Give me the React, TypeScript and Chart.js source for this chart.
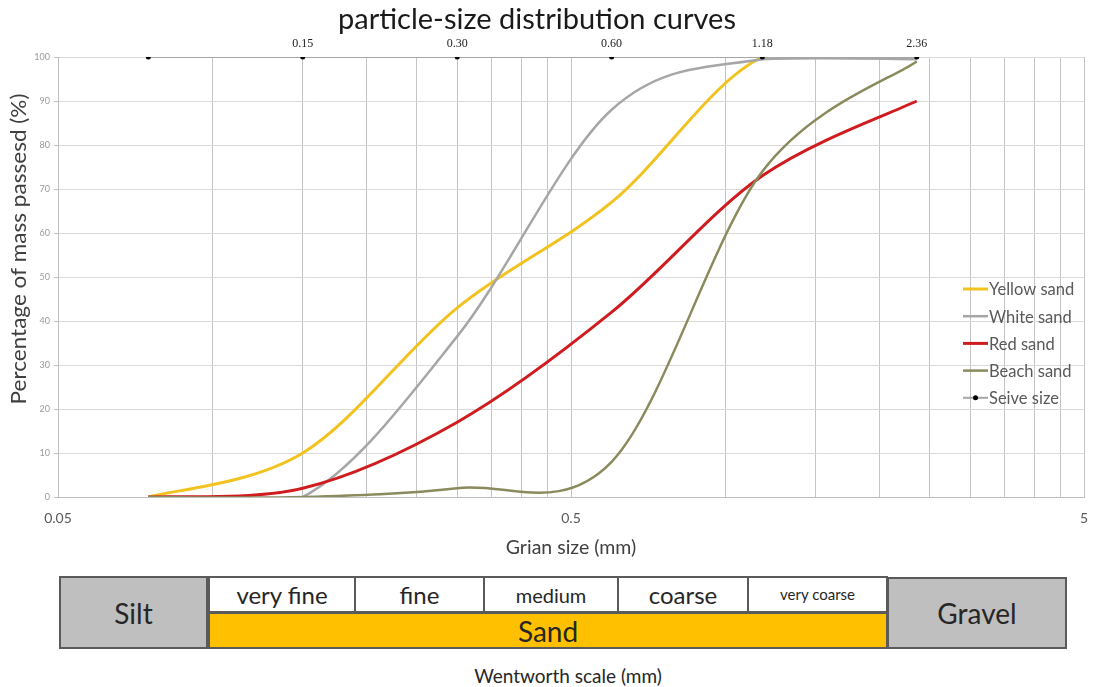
import React, { useEffect, useRef } from "react";
import { Chart, registerables } from "chart.js";

Chart.register(...registerables);

// ---- data ----
const sieveSizes = [0.075, 0.15, 0.3, 0.6, 1.18, 2.36];
const sieveLabels = ["", "0.15", "0.30", "0.60", "1.18", "2.36"];
const sieveLine = [100, 100, 100, 100, 100, 100];
const yellowSand = [0, 10, 43, 67, 100, 100];
const whiteSand = [0, 0, 36.5, 88, 99.5, 99.5];
const redSand = [0, 2, 17, 42, 73, 90];
const beachSand = [0, 0, 2, 8, 74, 99];

const seriesNames = ["Yellow sand", "White sand", "Red sand", "Beach sand", "Seive size"];
const seriesColors = ["#F2C21E", "#A6A6A6", "#D01C1F", "#8A8A5C", "#A6A6A6"];

const xGridValues = [0.05, 0.1, 0.15, 0.2, 0.25, 0.3, 0.35, 0.4, 0.45, 0.5, 1, 1.5, 2, 2.5, 3, 3.5, 4, 4.5, 5];
const xLabelValues = [0.05, 0.5, 5];

const wentworthSand = ["very fine", "fine", "medium", "coarse", "very coarse"];

const FONT = "Lato, 'Open Sans', sans-serif";

const toPoints = (vals: number[]) => vals.map((y, i) => ({ x: sieveSizes[i], y }));

// Excel-like smoothing: uniform Catmull-Rom control points in pixel space
const smoothPlugin = {
  id: "excelSmooth",
  beforeDatasetDraw(chart: any, args: any) {
    const ds = chart.data.datasets[args.index];
    if (!ds.excelSmooth) return;
    const meta = args.meta;
    const pts = meta.data;
    const top = chart.chartArea.top;
    const k = 1 / 6;
    for (let i = 0; i < pts.length; i++) {
      const p = pts[i];
      const prev = pts[i - 1] || p;
      const next = pts[i + 1] || p;
      const dx = next.x - prev.x;
      const dy = next.y - prev.y;
      p.cp1x = p.x - k * dx;
      p.cp1y = Math.max(top, p.y - k * dy);
      p.cp2x = p.x + k * dx;
      p.cp2y = Math.max(top, p.y + k * dy);
    }
    if (meta.dataset) meta.dataset._pointsUpdated = true;
  },
};

const extrasPlugin = {
  id: "extras",
  afterDraw(chart: any) {
    const ctx = chart.ctx;
    ctx.save();
    // title
    ctx.fillStyle = "#1a1a1a";
    ctx.font = `29px ${FONT}`;
    ctx.textAlign = "center";
    ctx.textBaseline = "middle";
    ctx.fillText("particle-size distribution curves", 537, 20);

    // y axis title (slightly stretched along its length, as in the source)
    ctx.save();
    ctx.translate(19, 249);
    ctx.rotate(-Math.PI / 2);
    ctx.scale(1.1, 1);
    ctx.font = `20.5px ${FONT}`;
    ctx.fillStyle = "#404040";
    ctx.fillText("Percentage of mass passesd (%)", 0, 0);
    ctx.restore();

    // sieve labels
    const sieveIdx = chart.data.datasets.length - 1;
    const meta = chart.getDatasetMeta(sieveIdx);
    ctx.font = "12px 'Liberation Serif', serif";
    ctx.fillStyle = "#222";
    meta.data.forEach((pt: any, i: number) => {
      if (sieveLabels[i]) ctx.fillText(sieveLabels[i], pt.x, pt.y - 13);
    });

    // legend
    const lx = 963;
    const ly = 289;
    const step = 27.2;
    ctx.textAlign = "left";
    ctx.font = `16.5px ${FONT}`;
    seriesNames.forEach((name, i) => {
      const ds = chart.data.datasets[i];
      const y = ly + i * step;
      ctx.strokeStyle = ds.borderColor;
      ctx.lineWidth = ds.borderWidth;
      ctx.beginPath();
      ctx.moveTo(lx, y);
      ctx.lineTo(lx + 25, y);
      ctx.stroke();
      if (ds.pointRadius > 0) {
        ctx.fillStyle = "#000";
        ctx.beginPath();
        ctx.arc(lx + 12.5, y, 2.5, 0, Math.PI * 2);
        ctx.fill();
      }
      ctx.fillStyle = "#595959";
      ctx.fillText(name, lx + 26, y + 1);
    });
    ctx.restore();
  },
};

function ChartCanvas() {
  const ref = useRef<HTMLCanvasElement | null>(null);
  useEffect(() => {
    if (!ref.current) return;
    const seriesData = [yellowSand, whiteSand, redSand, beachSand];
    const widths = [3, 2.5, 3, 2.5];
    const datasets: any[] = seriesData.map((vals, i) => ({
      label: seriesNames[i],
      data: toPoints(vals),
      borderColor: seriesColors[i],
      backgroundColor: seriesColors[i],
      borderWidth: widths[i],
      pointRadius: 0,
      tension: 0.4,
      excelSmooth: true,
      fill: false,
      order: 5 - i,
    }));
    datasets.push({
      label: seriesNames[4],
      data: toPoints(sieveLine),
      borderColor: seriesColors[4],
      backgroundColor: "#000",
      borderWidth: 2,
      pointRadius: 2.5,
      pointBackgroundColor: "#000",
      pointBorderColor: "#000",
      pointBorderWidth: 0,
      tension: 0,
      fill: false,
      order: 0,
    });
    const chart = new Chart(ref.current, {
      type: "line",
      data: { datasets },
      plugins: [smoothPlugin, extrasPlugin],
      options: {
        responsive: false,
        animation: false,
        devicePixelRatio: 1,
        layout: { padding: { left: 0, right: 12, top: 57, bottom: 0 } },
        plugins: {
          legend: { display: false },
          tooltip: { enabled: false },
          title: { display: false },
        },
        scales: {
          x: {
            type: "logarithmic",
            min: 0.05,
            max: 5,
            afterBuildTicks: (scale: any) => {
              scale.ticks = xGridValues.map((v) => ({ value: v }));
            },
            afterFit: (scale: any) => {
              scale.height = 63;
              scale.paddingLeft = 0;
              scale.paddingRight = 0;
            },
            ticks: {
              autoSkip: false,
              maxRotation: 0,
              minRotation: 0,
              padding: 13,
              color: "#595959",
              font: { family: FONT, size: 14 },
              callback: (value: any) => (xLabelValues.includes(Number(value)) ? String(value) : ""),
            },
            grid: { color: "#c4c4c4", lineWidth: 1, drawTicks: false },
            border: { color: "#bfbfbf", width: 1 },
            title: {
              display: true,
              text: "Grian size (mm)",
              color: "#404040",
              font: { family: FONT, size: 19.5 },
              padding: { top: 0, bottom: 1 },
            },
          },
          y: {
            type: "linear",
            min: 0,
            max: 100,
            afterFit: (scale: any) => {
              scale.width = 58;
            },
            ticks: {
              stepSize: 10,
              padding: 4,
              color: "#9a9a9a",
              font: { family: FONT, size: 9 },
            },
            grid: { color: "#dadada", lineWidth: 1, tickLength: 4, tickColor: "#bfbfbf" },
            border: { color: "#bfbfbf", width: 1 },
            title: { display: false },
          },
        },
      },
    });
    return () => chart.destroy();
  }, []);
  return <canvas ref={ref} width={1096} height={560} style={{ position: "absolute", left: 0, top: 0, width: 1096, height: 560 }} />;
}

const border = "2px solid #5a5a5a";
const cellBase: React.CSSProperties = {
  position: "absolute",
  boxSizing: "border-box",
  border,
  display: "flex",
  alignItems: "center",
  justifyContent: "center",
  color: "#262626",
  fontFamily: FONT,
  lineHeight: 1,
};

const sandEdges = [208, 354, 483, 617, 747, 886];
const sandFontSizes = [24, 24, 20, 24, 15];

export default function App() {
  return (
    <div style={{ position: "absolute", left: 0, top: 0, width: 1096, height: 687, background: "#fff", overflow: "hidden" }}>
      <ChartCanvas />
      <div style={{ ...cellBase, left: 59, top: 576, width: 149, height: 73, background: "#bfbfbf", fontSize: 28 }}>Silt</div>
      {wentworthSand.map((name, i) => (
        <div
          key={name}
          style={{
            ...cellBase,
            left: sandEdges[i],
            top: 576,
            width: sandEdges[i + 1] - sandEdges[i] + 2,
            height: 37,
            background: "#fff",
            fontSize: sandFontSizes[i],
          }}
        >
          {name}
        </div>
      ))}
      <div style={{ ...cellBase, left: 208, top: 612, width: 680, height: 37, background: "#FFC000", fontSize: 28 }}>Sand</div>
      <div style={{ ...cellBase, left: 887, top: 577, width: 180, height: 72, background: "#bfbfbf", fontSize: 28 }}>Gravel</div>
      <div
        style={{
          position: "absolute",
          left: 368,
          width: 400,
          top: 664,
          textAlign: "center",
          fontFamily: FONT,
          fontSize: 19,
          color: "#262626",
        }}
      >
        Wentworth scale (mm)
      </div>
    </div>
  );
}
